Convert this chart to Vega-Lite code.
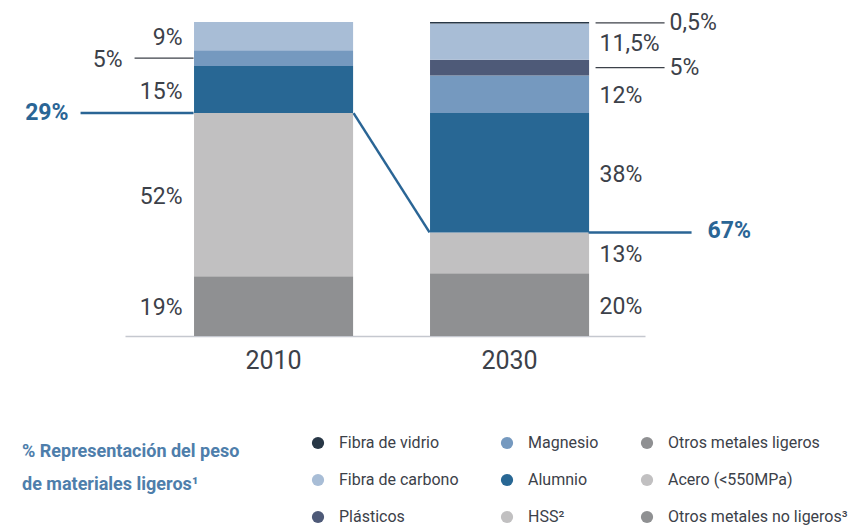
{
  "$schema": "https://vega.github.io/schema/vega-lite/v6.json",
  "width": 520,
  "height": 314,
  "autosize": {"type": "none"},
  "padding": {"left": 125, "top": 22, "right": 210, "bottom": 192},
  "background": "white",
  "config": {
    "view": {"stroke": null},
    "axisX": {
      "labelFont": "Roboto",
      "labelFontSize": 25,
      "labelColor": "#3c4149",
      "labelPadding": 12,
      "ticks": false,
      "tickSize": 0,
      "domainColor": "#c5c8cf",
      "domainWidth": 1.5,
      "labelAngle": 0,
      "grid": false
    }
  },
  "datasets": {
    "materials": [
      {"year": "2010", "material": "Otros metales no ligeros³", "value": 19, "order": 1, "label": "19%", "leader": "no"},
      {"year": "2010", "material": "Acero (<550MPa)", "value": 52, "order": 2, "label": "52%", "leader": "no"},
      {"year": "2010", "material": "Alumnio", "value": 15, "order": 3, "label": "15%", "leader": "no"},
      {"year": "2010", "material": "Magnesio", "value": 5, "order": 4, "label": "5%", "leader": "yes"},
      {"year": "2010", "material": "Fibra de carbono", "value": 9, "order": 6, "label": "9%", "leader": "no"},
      {"year": "2030", "material": "Otros metales no ligeros³", "value": 20, "order": 1, "label": "20%", "leader": "no"},
      {"year": "2030", "material": "Acero (<550MPa)", "value": 13, "order": 2, "label": "13%", "leader": "no"},
      {"year": "2030", "material": "Alumnio", "value": 38, "order": 3, "label": "38%", "leader": "no"},
      {"year": "2030", "material": "Magnesio", "value": 12, "order": 4, "label": "12%", "leader": "no"},
      {"year": "2030", "material": "Plásticos", "value": 5, "order": 5, "label": "5%", "leader": "yes"},
      {"year": "2030", "material": "Fibra de carbono", "value": 11.5, "order": 6, "label": "11,5%", "leader": "no"},
      {"year": "2030", "material": "Fibra de vidrio", "value": 0.5, "order": 7, "label": "0,5%", "leader": "yes"}
    ],
    "threshold": [
      {"year": "2010", "level": 71, "share": "29%"},
      {"year": "2030", "level": 33, "share": "67%"}
    ],
    "link": [
      {"from": "2010", "to": "2030", "fromLevel": 71, "toLevel": 33}
    ]
  },
  "layer": [
    {
      "data": {"name": "materials"},
      "mark": {"type": "bar"},
      "encoding": {
        "x": {"field": "year", "type": "nominal", "title": null,
              "scale": {"domain": ["2010", "2030"], "paddingInner": 0.326, "paddingOuter": 0.2647, "align": 0.5525}},
        "y": {"field": "value", "type": "quantitative", "stack": "zero", "scale": {"domain": [0, 100], "nice": false}, "axis": null},
        "color": {
          "field": "material", "type": "nominal",
          "scale": {
            "domain": ["Fibra de vidrio", "Magnesio", "Otros metales ligeros", "Fibra de carbono", "Alumnio", "Acero (<550MPa)", "Plásticos", "HSS²", "Otros metales no ligeros³"],
            "range": ["#283746", "#7599bf", "#8f9092", "#a8bdd6", "#286794", "#c1c0c1", "#4e5a78", "#c1c0c1", "#8f9092"]
          },
          "legend": {
            "orient": "none",
            "legendX": -103,
            "legendY": 413,
            "columns": 3,
            "direction": "horizontal",
            "symbolType": "circle",
            "symbolSize": 150,
            "symbolStrokeWidth": 0,
            "labelFont": "Roboto",
            "labelFontSize": 16,
            "labelColor": "#3c4149",
            "labelOffset": 13,
            "labelLimit": 300,
            "rowPadding": 21,
            "columnPadding": 40,
            "title": ["% Representación del peso", "de materiales ligeros¹"],
            "titleOrient": "left",
            "titleAnchor": "start",
            "titleBaseline": "line-top",
            "titleFont": "Roboto",
            "titleFontWeight": "bold",
            "titleFontSize": 18,
            "titleColor": "#4e7eab",
            "titleLineHeight": 33,
            "titlePadding": 70,
            "titleLimit": 400
          }
        },
        "order": {"field": "order", "type": "quantitative"}
      }
    },
    {
      "data": {"name": "materials"},
      "mark": {"type": "text", "align": "right", "baseline": "middle", "dx": -91, "dy": 2, "font": "Roboto", "fontSize": 23, "color": "#3c4149"},
      "encoding": {
        "x": {"field": "year", "type": "nominal", "title": null},
        "y": {"field": "value", "type": "quantitative", "stack": "zero", "bandPosition": 0.5, "axis": null},
        "detail": {"field": "material"},
        "order": {"field": "order", "type": "quantitative"},
        "text": {"condition": {"test": "datum.year === '2010' && datum.leader === 'no'", "field": "label", "type": "nominal"}, "value": ""}
      }
    },
    {
      "data": {"name": "materials"},
      "mark": {"type": "text", "align": "left", "baseline": "middle", "dx": 90, "dy": 2, "font": "Roboto", "fontSize": 23, "color": "#3c4149"},
      "encoding": {
        "x": {"field": "year", "type": "nominal", "title": null},
        "y": {"field": "value", "type": "quantitative", "stack": "zero", "bandPosition": 0.5, "axis": null},
        "detail": {"field": "material"},
        "order": {"field": "order", "type": "quantitative"},
        "text": {"condition": {"test": "datum.year === '2030' && datum.leader === 'no'", "field": "label", "type": "nominal"}, "value": ""}
      }
    },
    {
      "data": {"name": "materials"},
      "mark": {"type": "text", "align": "right", "baseline": "middle", "dx": -151, "dy": 2, "font": "Roboto", "fontSize": 23, "color": "#3c4149"},
      "encoding": {
        "x": {"field": "year", "type": "nominal", "title": null},
        "y": {"field": "value", "type": "quantitative", "stack": "zero", "bandPosition": 0.5, "axis": null},
        "detail": {"field": "material"},
        "order": {"field": "order", "type": "quantitative"},
        "text": {"condition": {"test": "datum.year === '2010' && datum.leader === 'yes'", "field": "label", "type": "nominal"}, "value": ""}
      }
    },
    {
      "data": {"name": "materials"},
      "mark": {"type": "text", "align": "left", "baseline": "middle", "dx": 160, "dy": 0, "font": "Roboto", "fontSize": 23, "color": "#3c4149"},
      "encoding": {
        "x": {"field": "year", "type": "nominal", "title": null},
        "y": {"field": "value", "type": "quantitative", "stack": "zero", "bandPosition": 0.5, "axis": null},
        "detail": {"field": "material"},
        "order": {"field": "order", "type": "quantitative"},
        "text": {"condition": {"test": "datum.year === '2030' && datum.leader === 'yes'", "field": "label", "type": "nominal"}, "value": ""}
      }
    },
    {
      "data": {"name": "materials"},
      "mark": {"type": "rule", "xOffset": -139, "x2Offset": -80, "color": "#3c4149", "strokeWidth": 1.2},
      "encoding": {
        "x": {"field": "year", "type": "nominal", "title": null, "bandPosition": 0.5},
        "x2": {"field": "year", "bandPosition": 0.5},
        "y": {"field": "value", "type": "quantitative", "stack": "zero", "bandPosition": 0.5, "axis": null},
        "detail": {"field": "material"},
        "order": {"field": "order", "type": "quantitative"},
        "opacity": {"condition": {"test": "datum.year === '2010' && datum.leader === 'yes'", "value": 1}, "value": 0}
      }
    },
    {
      "data": {"name": "materials"},
      "mark": {"type": "rule", "xOffset": 86, "x2Offset": 155, "color": "#3c4149", "strokeWidth": 1.2},
      "encoding": {
        "x": {"field": "year", "type": "nominal", "title": null, "bandPosition": 0.5},
        "x2": {"field": "year", "bandPosition": 0.5},
        "y": {"field": "value", "type": "quantitative", "stack": "zero", "bandPosition": 0.5, "axis": null},
        "detail": {"field": "material"},
        "order": {"field": "order", "type": "quantitative"},
        "opacity": {"condition": {"test": "datum.year === '2030' && datum.leader === 'yes'", "value": 1}, "value": 0}
      }
    },
    {
      "data": {"name": "threshold"},
      "transform": [{"filter": "datum.year === '2010'"}],
      "mark": {"type": "rule", "xOffset": -193, "x2Offset": -80, "color": "#2a6595", "strokeWidth": 2.5},
      "encoding": {
        "x": {"field": "year", "type": "nominal", "title": null, "bandPosition": 0.5},
        "x2": {"field": "year", "bandPosition": 0.5},
        "y": {"field": "level", "type": "quantitative", "axis": null}
      }
    },
    {
      "data": {"name": "threshold"},
      "transform": [{"filter": "datum.year === '2030'"}],
      "mark": {"type": "rule", "xOffset": 79, "x2Offset": 182, "color": "#2a6595", "strokeWidth": 2.5},
      "encoding": {
        "x": {"field": "year", "type": "nominal", "title": null, "bandPosition": 0.5},
        "x2": {"field": "year", "bandPosition": 0.5},
        "y": {"field": "level", "type": "quantitative", "axis": null}
      }
    },
    {
      "data": {"name": "link"},
      "mark": {"type": "rule", "xOffset": 80, "x2Offset": -80, "color": "#2a6595", "strokeWidth": 2.5},
      "encoding": {
        "x": {"field": "from", "type": "nominal", "title": null, "bandPosition": 0.5},
        "x2": {"field": "to", "bandPosition": 0.5},
        "y": {"field": "fromLevel", "type": "quantitative", "axis": null},
        "y2": {"field": "toLevel"}
      }
    },
    {
      "data": {"name": "threshold"},
      "transform": [{"filter": "datum.year === '2010'"}],
      "mark": {"type": "text", "align": "right", "baseline": "middle", "dx": -205, "dy": 0, "font": "Roboto", "fontWeight": "bold", "fontSize": 23, "color": "#2a6595"},
      "encoding": {
        "x": {"field": "year", "type": "nominal", "title": null},
        "y": {"field": "level", "type": "quantitative", "axis": null},
        "text": {"field": "share", "type": "nominal"}
      }
    },
    {
      "data": {"name": "threshold"},
      "transform": [{"filter": "datum.year === '2030'"}],
      "mark": {"type": "text", "align": "left", "baseline": "middle", "dx": 198, "dy": -1, "font": "Roboto", "fontWeight": "bold", "fontSize": 23, "color": "#2a6595"},
      "encoding": {
        "x": {"field": "year", "type": "nominal", "title": null},
        "y": {"field": "level", "type": "quantitative", "axis": null},
        "text": {"field": "share", "type": "nominal"}
      }
    }
  ]
}
